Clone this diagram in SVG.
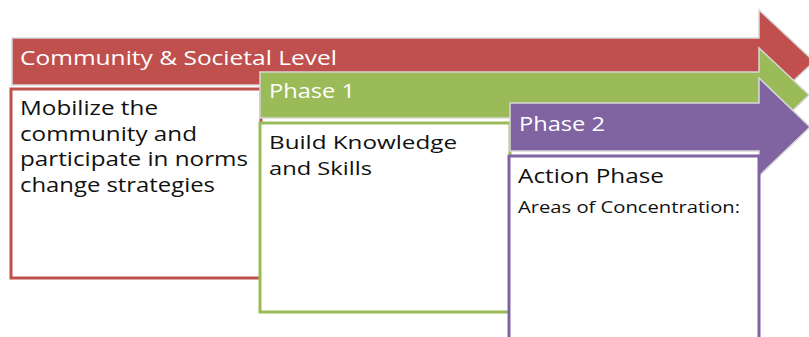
<svg xmlns="http://www.w3.org/2000/svg" width="809" height="337" viewBox="0 0 809 337">
<style>
.arrow{stroke:#d8d8d8;stroke-width:1.5;stroke-linejoin:miter}
.box{fill:#fff;stroke-width:3}
.hdr{font-family:"Open Sans",sans-serif;font-size:20.5px;fill:#fff}
.body{font-family:"Open Sans",sans-serif;font-size:20px;fill:#111}
.body2{font-family:"Open Sans",sans-serif;font-size:18.5px;fill:#111}
.small{font-family:"Open Sans",sans-serif;font-size:16px;fill:#111}
</style>
<rect width="809" height="337" fill="#fff"/>
<g id="connectors"></g>
<g id="community">
<path class="arrow" fill="#c0504d" d="M12,38 H759 V10 L814,61.5 L759,113 V85 H12 Z"/>
<rect class="box" x="11" y="89" width="250" height="189" stroke="#c0504d"/>
<text class="hdr" x="20" y="65" textLength="317" lengthAdjust="spacingAndGlyphs">Community &amp; Societal Level</text>
<text class="body" x="20" y="115" textLength="138" lengthAdjust="spacingAndGlyphs">Mobilize the</text>
<text class="body" x="20" y="140.5" textLength="177" lengthAdjust="spacingAndGlyphs">community and</text>
<text class="body" x="20" y="166" textLength="228" lengthAdjust="spacingAndGlyphs">participate in norms</text>
<text class="body" x="20" y="192" textLength="195" lengthAdjust="spacingAndGlyphs">change strategies</text>
</g>
<g id="phase1">
<path class="arrow" fill="#9bbb59" d="M260,72 H759 V48 L809,95 L759,142 V118 H260 Z"/>
<rect class="box" x="260" y="123" width="250" height="189" stroke="#9bbb59"/>
<text class="hdr" x="269" y="98" textLength="86" lengthAdjust="spacingAndGlyphs">Phase 1</text>
<text class="body2" x="269" y="149" textLength="188" lengthAdjust="spacingAndGlyphs">Build Knowledge</text>
<text class="body2" x="269" y="175" textLength="103" lengthAdjust="spacingAndGlyphs">and Skills</text>
</g>
<g id="phase2">
<path class="arrow" fill="#8064a2" d="M510,103 H759 V78 L810,127 L759,176 V151 H510 Z"/>
<rect class="box" x="509" y="156" width="250" height="200" stroke="#8064a2"/>
<text class="hdr" x="519" y="131" textLength="86" lengthAdjust="spacingAndGlyphs">Phase 2</text>
<text class="body" x="518" y="183" textLength="146" lengthAdjust="spacingAndGlyphs">Action Phase</text>
<text class="small" x="518" y="213" textLength="222" lengthAdjust="spacingAndGlyphs">Areas of Concentration:</text>
</g>
</svg>
